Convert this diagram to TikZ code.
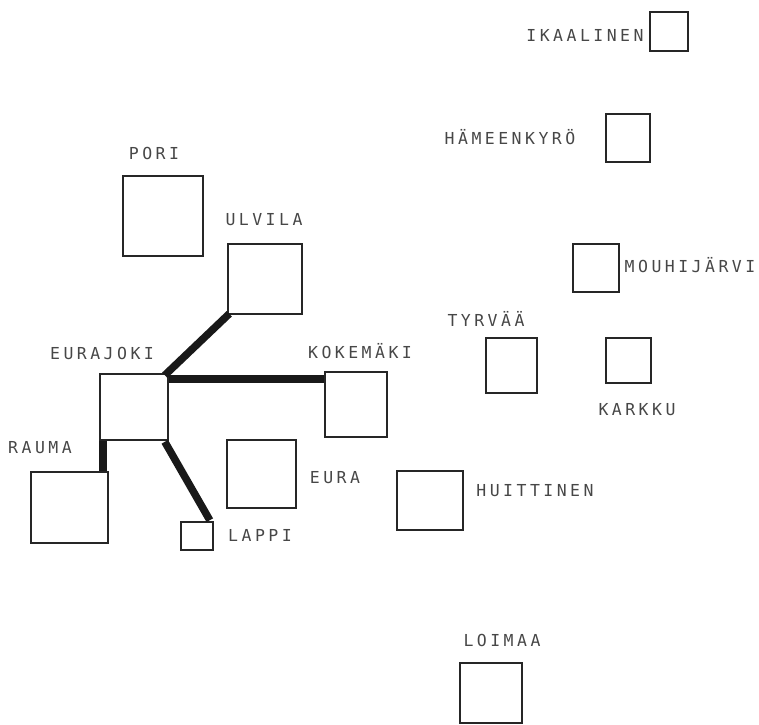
\documentclass[tikz,border=0pt]{standalone}
\usepackage{fontspec}
\setmonofont{DejaVu Sans Mono}[LetterSpace=21]
\usetikzlibrary{calc}
\begin{document}
\begin{tikzpicture}[x=1pt,y=-1pt,
  town/.style={draw=black!85,line width=1.6pt,fill=white,inner sep=0pt,rectangle},
  lbl/.style={font=\ttfamily\fontsize{16.5}{18}\selectfont,text=black!72,inner sep=0pt,anchor=center},
  link/.style={line width=7.5pt,black!90,line cap=butt}]
\useasboundingbox (0,0) rectangle (759,724);
\node[town,minimum width=80pt,minimum height=80pt] (po) at (163,216) {};
\node[town,minimum width=74pt,minimum height=70pt] (ul) at (265,279) {};
\node[town,minimum width=68pt,minimum height=66pt] (ej) at (134,407) {};
\node[town,minimum width=62pt,minimum height=65pt] (ko) at (356,404.5) {};
\node[town,minimum width=77pt,minimum height=71pt] (ra) at (69.5,507.5) {};
\node[town,minimum width=69pt,minimum height=68pt] (eu) at (261.5,474) {};
\node[town,minimum width=32pt,minimum height=28pt] (la) at (197,536) {};
\node[town,minimum width=38pt,minimum height=39pt] (ik) at (669,31.5) {};
\node[town,minimum width=44pt,minimum height=48pt] (hk) at (628,138) {};
\node[town,minimum width=46pt,minimum height=48pt] (mo) at (596,268) {};
\node[town,minimum width=51pt,minimum height=55pt] (ty) at (511.5,365.5) {};
\node[town,minimum width=45pt,minimum height=45pt] (ka) at (628.5,360.5) {};
\node[town,minimum width=66pt,minimum height=59pt] (hu) at (430,500.5) {};
\node[town,minimum width=62pt,minimum height=60pt] (lo) at (491,693) {};
% connectors
\draw[link] ($(ej.north east)+(-4,2)$) -- ($(ul.south west)+(2,-1)$);
\draw[link] (ej.east |- 0,379) -- (ko.west |- 0,379);
\draw[link] (ej.south -| 103,0) -- (ra.north -| 103,0);
\draw[link] ($(ej.south east)+(-4,1)$) -- ($(la.north east)+(-4,-1)$);
% labels
\node[lbl] (tpo) at (154,153) {PORI};
\node[lbl] (tul) at (264,220) {ULVILA};
\node[lbl] (tej) at (102,353) {EURAJOKI};
\node[lbl] (tko) at (360,351) {KOKEMÄKI};
\node[lbl] (tra) at (40,448) {RAUMA};
\node[lbl] (teu) at (335,478) {EURA};
\node[lbl] (tla) at (260,535) {LAPPI};
\node[lbl] (tik) at (585,35) {IKAALINEN};
\node[lbl] (thk) at (510,137) {HÄMEENKYRÖ};
\node[lbl] (tmo) at (690,265) {MOUHIJÄRVI};
\node[lbl] (tty) at (486,319) {TYRVÄÄ};
\node[lbl] (tka) at (637,410) {KARKKU};
\node[lbl] (thu) at (535,491) {HUITTINEN};
\node[lbl] (tlo) at (502,640) {LOIMAA};
\end{tikzpicture}
\end{document}
